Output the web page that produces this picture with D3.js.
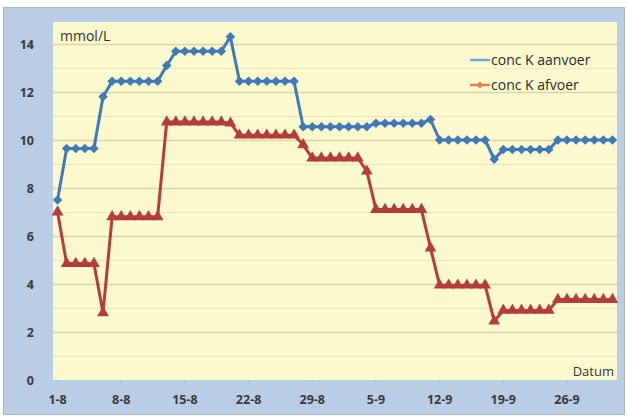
<!DOCTYPE html>
<html>
<head>
<meta charset="utf-8">
<script src="https://cdn.jsdelivr.net/npm/d3@7"></script>
<style>
  html, body { margin: 0; padding: 0; background: #ffffff; }
  svg { display: block; font-family: "Open Sans", "Liberation Sans", sans-serif; }
</style>
</head>
<body>
<svg id="chart" width="627" height="417"></svg>
<script>
// Daily dates, 1 August through 1 October
const dates = [
  "1-8","2-8","3-8","4-8","5-8","6-8","7-8","8-8","9-8","10-8","11-8","12-8","13-8","14-8","15-8","16-8",
  "17-8","18-8","19-8","20-8","21-8","22-8","23-8","24-8","25-8","26-8","27-8","28-8","29-8","30-8","31-8",
  "1-9","2-9","3-9","4-9","5-9","6-9","7-9","8-9","9-9","10-9","11-9","12-9","13-9","14-9","15-9","16-9",
  "17-9","18-9","19-9","20-9","21-9","22-9","23-9","24-9","25-9","26-9","27-9","28-9","29-9","30-9","1-10"
];

// Potassium concentration in supply (aanvoer), mmol/L
const concAanvoer = [
  7.5,
  9.65, 9.65, 9.65, 9.65,
  11.8,
  12.45, 12.45, 12.45, 12.45, 12.45, 12.45,
  13.1,
  13.7, 13.7, 13.7, 13.7, 13.7, 13.7,
  14.3,
  12.45, 12.45, 12.45, 12.45, 12.45, 12.45, 12.45,
  10.55, 10.55, 10.55, 10.55, 10.55, 10.55, 10.55, 10.55,
  10.7, 10.7, 10.7, 10.7, 10.7, 10.7,
  10.85,
  10.0, 10.0, 10.0, 10.0, 10.0, 10.0,
  9.2,
  9.6, 9.6, 9.6, 9.6, 9.6, 9.6,
  10.0, 10.0, 10.0, 10.0, 10.0, 10.0, 10.0
];

// Potassium concentration in drainage (afvoer), mmol/L
const concAfvoer = [
  7.0,
  4.85, 4.85, 4.85, 4.85,
  2.8,
  6.8, 6.8, 6.8, 6.8, 6.8, 6.8,
  10.75, 10.75, 10.75, 10.75, 10.75, 10.75, 10.75,
  10.7,
  10.2, 10.2, 10.2, 10.2, 10.2, 10.2, 10.2,
  9.8,
  9.25, 9.25, 9.25, 9.25, 9.25, 9.25,
  8.7,
  7.1, 7.1, 7.1, 7.1, 7.1, 7.1,
  5.5,
  3.95, 3.95, 3.95, 3.95, 3.95, 3.95,
  2.45,
  2.9, 2.9, 2.9, 2.9, 2.9, 2.9,
  3.35, 3.35, 3.35, 3.35, 3.35, 3.35, 3.35
];

const xTickLabels = ["1-8","8-8","15-8","22-8","29-8","5-9","12-9","19-9","26-9"];
const yTicks = [0, 2, 4, 6, 8, 10, 12, 14];
const yMinorTicks = [1, 3, 5, 7, 9, 11, 13];
const seriesNames = ["conc K aanvoer", "conc K afvoer"];

const svg = d3.select("#chart");
const plot = { left: 53, right: 617, top: 22, bottom: 380 };

// outer chart frame
svg.append("rect")
  .attr("x", 3.5).attr("y", 7.5).attr("width", 621).attr("height", 407)
  .attr("fill", "#b9cde4").attr("stroke", "#a9b4c0").attr("stroke-width", 1);

// plot area
svg.append("rect")
  .attr("x", plot.left).attr("y", plot.top)
  .attr("width", plot.right - plot.left).attr("height", plot.bottom - plot.top)
  .attr("fill", "#fcf9cf");

const x = d3.scaleBand().domain(dates).range([plot.left, plot.right]);
const cx = d => x(d) + x.bandwidth() / 2;
const y = d3.scaleLinear().domain([0, 14]).range([plot.bottom, 44]);

// minor gridlines
svg.append("g").selectAll("line").data(yMinorTicks).join("line")
  .attr("x1", plot.left).attr("x2", plot.right)
  .attr("y1", d => Math.round(y(d)) + 0.5).attr("y2", d => Math.round(y(d)) + 0.5)
  .attr("stroke", "#ece6c0").attr("stroke-width", 1);

// major gridlines
svg.append("g").selectAll("line").data(yTicks.filter(d => d > 0)).join("line")
  .attr("x1", plot.left).attr("x2", plot.right)
  .attr("y1", d => Math.round(y(d)) + 0.5).attr("y2", d => Math.round(y(d)) + 0.5)
  .attr("stroke", "#dcd5a6").attr("stroke-width", 1.5);

// y axis
const yAxis = d3.axisLeft(y).tickValues(yTicks).tickSize(0).tickPadding(0);
const gy = svg.append("g").attr("transform", "translate(34,0)").call(yAxis);
gy.select(".domain").remove();
gy.selectAll("text")
  .attr("font-family", "'Open Sans', 'Liberation Sans', sans-serif")
  .attr("font-size", 12.5).attr("font-weight", "bold").attr("fill", "#3a3a3a");

// x axis
const xAxis = d3.axisBottom(x).tickValues(xTickLabels).tickSize(3).tickPadding(12);
const gx = svg.append("g").attr("transform", `translate(0,${plot.bottom})`).call(xAxis);
gx.select(".domain").remove();
gx.selectAll(".tick line").attr("stroke", "#a6b8cc");
gx.selectAll("text")
  .attr("font-family", "'Open Sans', 'Liberation Sans', sans-serif")
  .attr("font-size", 12.5).attr("font-weight", "bold").attr("fill", "#3a3a3a");

// axis titles
svg.append("text").attr("x", 60).attr("y", 41)
  .attr("font-size", 14).attr("fill", "#333").text("mmol/L");
svg.append("text").attr("x", 614).attr("y", 376).attr("text-anchor", "end")
  .attr("font-size", 13).attr("fill", "#333").text("Datum");

const line = d3.line().x((d, i) => cx(dates[i])).y(d => y(d));

// supply series with diamond markers
svg.append("path").datum(concAanvoer)
  .attr("d", line).attr("fill", "none")
  .attr("stroke", "#3f79b8").attr("stroke-width", 3).attr("stroke-linejoin", "round");
svg.append("g").selectAll("path").data(concAanvoer).join("path")
  .attr("d", d3.symbol(d3.symbolDiamond2, 58))
  .attr("transform", (d, i) => `translate(${cx(dates[i])},${y(d)})`)
  .attr("fill", "#3f79b8");

// drainage series with triangle markers
svg.append("path").datum(concAfvoer)
  .attr("d", line).attr("fill", "none")
  .attr("stroke", "#b43c3a").attr("stroke-width", 3).attr("stroke-linejoin", "round");
svg.append("g").selectAll("path").data(concAfvoer).join("path")
  .attr("d", d3.symbol(d3.symbolTriangle, 60))
  .attr("transform", (d, i) => `translate(${cx(dates[i])},${y(d)})`)
  .attr("fill", "#b43c3a");

// legend
const legendColors = ["#6aaed6", "#e0824c"];
const lg = svg.append("g");
seriesNames.forEach((name, i) => {
  const ly = 60 + i * 25;
  lg.append("line").attr("x1", 470).attr("x2", 490).attr("y1", ly).attr("y2", ly)
    .attr("stroke", legendColors[i]).attr("stroke-width", 2.5);
  if (i === 1) {
    lg.append("path").attr("d", d3.symbol(d3.symbolDiamond2, 30))
      .attr("transform", `translate(480,${ly})`).attr("fill", legendColors[i]);
  }
  lg.append("text").attr("x", 491).attr("y", ly + 5)
    .attr("font-size", 14).attr("fill", "#2a2a2a").text(name);
});
</script>
</body>
</html>
